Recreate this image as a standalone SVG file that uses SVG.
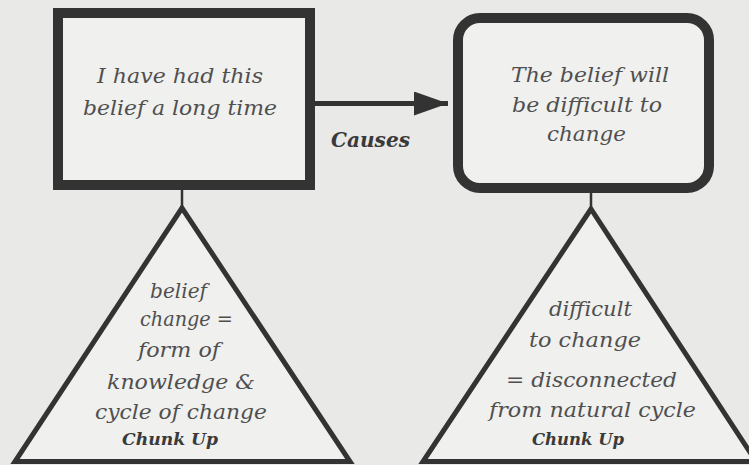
<svg xmlns="http://www.w3.org/2000/svg" width="749" height="465" viewBox="0 0 749 465">
<style>
.bg{fill:#e9e9e7}
.box{fill:#f0f0ee;stroke:#333;stroke-width:10}
.tri{fill:#f0f0ee;stroke:#333;stroke-width:5;stroke-linejoin:miter}
.con{stroke:#333;fill:none}
.t{font-family:"DejaVu Serif",serif;font-style:italic;font-size:20px;fill:#4f4f4f}
.b{font-family:"DejaVu Serif",serif;font-style:italic;font-weight:bold;fill:#3a3a3a}
</style>
<defs>
<marker id="ah" markerUnits="userSpaceOnUse" markerWidth="36" markerHeight="26" refX="34" refY="12" orient="auto">
<path d="M0,0 L34,12 L0,24 Z" fill="#333"/>
</marker>
</defs>
<rect class="bg" x="0" y="0" width="749" height="465"/>
<g id="connectors">
<line class="con" x1="315" y1="103.5" x2="448" y2="103.5" stroke-width="5" marker-end="url(#ah)"/>
<line class="con" x1="182" y1="190" x2="182" y2="208" stroke-width="2.5"/>
<line class="con" x1="591" y1="193" x2="591" y2="209" stroke-width="2.5"/>
<text class="b" x="331" y="147" font-size="21" textLength="79" lengthAdjust="spacingAndGlyphs">Causes</text>
</g>
<g id="node-long-time">
<rect class="box" x="58" y="13" width="252" height="172"/>
<text class="t" x="97" y="83" textLength="166" lengthAdjust="spacingAndGlyphs">I have had this</text>
<text class="t" x="83" y="115" textLength="194" lengthAdjust="spacingAndGlyphs">belief a long time</text>
</g>
<g id="node-difficult">
<rect class="box" x="458" y="18" width="251" height="170" rx="22" ry="22"/>
<text class="t" x="511" y="82" textLength="158" lengthAdjust="spacingAndGlyphs">The belief will</text>
<text class="t" x="512" y="112" textLength="150" lengthAdjust="spacingAndGlyphs">be difficult to</text>
<text class="t" x="547" y="141" textLength="79" lengthAdjust="spacingAndGlyphs">change</text>
</g>
<g id="node-chunk-left">
<polygon class="tri" points="182,208 15,461.5 350,461.5"/>
<text class="t" x="150" y="298" textLength="57" lengthAdjust="spacingAndGlyphs">belief</text>
<text class="t" x="140" y="326" textLength="93" lengthAdjust="spacingAndGlyphs">change =</text>
<text class="t" x="138" y="357" textLength="82" lengthAdjust="spacingAndGlyphs">form of</text>
<text class="t" x="107" y="389" textLength="148" lengthAdjust="spacingAndGlyphs">knowledge &amp;</text>
<text class="t" x="95" y="419" textLength="172" lengthAdjust="spacingAndGlyphs">cycle of change</text>
<text class="b" x="122" y="445" font-size="17" textLength="96" lengthAdjust="spacingAndGlyphs">Chunk Up</text>
</g>
<g id="node-chunk-right">
<polygon class="tri" points="591,209 423,461.5 756,461.5"/>
<text class="t" x="549" y="316" textLength="83" lengthAdjust="spacingAndGlyphs">difficult</text>
<text class="t" x="529" y="347" textLength="112" lengthAdjust="spacingAndGlyphs">to change</text>
<text class="t" x="506" y="387" textLength="171" lengthAdjust="spacingAndGlyphs">= disconnected</text>
<text class="t" x="489" y="417" textLength="207" lengthAdjust="spacingAndGlyphs">from natural cycle</text>
<text class="b" x="532" y="445" font-size="17" textLength="92" lengthAdjust="spacingAndGlyphs">Chunk Up</text>
</g>
</svg>
